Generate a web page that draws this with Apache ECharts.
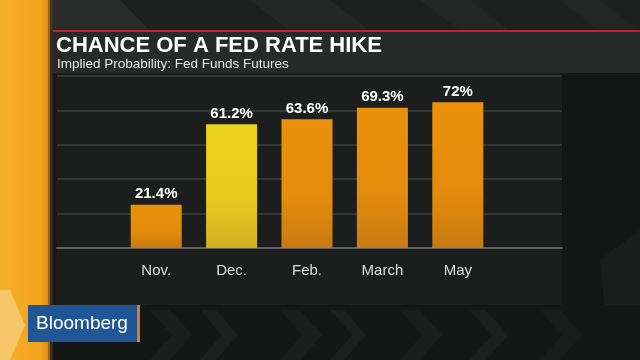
<!DOCTYPE html>
<html><head><meta charset="utf-8">
<style>html,body{margin:0;padding:0;background:#181a1a;}#c{width:640px;height:360px;}</style>
<script src="https://cdn.jsdelivr.net/npm/echarts@6/dist/echarts.min.js"></script>
</head><body><div id="c"></div>
<script>
const categories = ['Nov.', 'Dec.', 'Feb.', 'March', 'May'];
const values = [21.4, 61.2, 63.6, 69.3, 72];
const highlight = [false, true, false, false, false];
const titleText = 'CHANCE OF A FED RATE HIKE';
const subtitleText = 'Implied Probability: Fed Funds Futures';

const orangeGrad = new echarts.graphic.LinearGradient(0,0,0,1,[{offset:0,color:'#ea900a'},{offset:0.6,color:'#e48c0c'},{offset:1,color:'#c97a10'}]);
const yellowGrad = new echarts.graphic.LinearGradient(0,0,0,1,[{offset:0,color:'#ebd21c'},{offset:0.6,color:'#e6cb1e'},{offset:1,color:'#cfb022'}]);

const chart = echarts.init(document.getElementById('c'), null, {renderer:'canvas'});

function chev(x, y, w, h, d, fill) {
  return {type:'polygon', silent:true, shape:{points:[[x,y],[x+w,y],[x+w+d,y+h/2],[x+w,y+h],[x,y+h],[x+d,y+h/2]]}, style:{fill:fill}};
}
const gfx = [
  // top strip
  {type:'rect', shape:{x:0,y:0,width:640,height:31}, style:{fill:'#1f2121'}, z:-10},
  {type:'polygon', shape:{points:[[50,0],[120,0],[150,31],[50,31]]}, style:{fill:'#2a2c2c'}, z:-9},
  {type:'polygon', shape:{points:[[250,0],[330,0],[370,31],[290,31]]}, style:{fill:'#252727'}, z:-9},
  {type:'polygon', shape:{points:[[420,0],[470,0],[510,31],[460,31]]}, style:{fill:'#242626'}, z:-9},
  {type:'polygon', shape:{points:[[560,0],[600,0],[640,31],[600,31]]}, style:{fill:'#232525'}, z:-9},
  // right dark region
  {type:'rect', shape:{x:562,y:73,width:78,height:287}, style:{fill:'#141616'}, z:-10},
  {type:'polygon', shape:{points:[[600,260],[640,230],[640,360],[610,360]]}, style:{fill:'#1b1d1d'}, z:-9},
  // chart panel
  {type:'rect', shape:{x:57,y:75,width:505,height:230}, style:{fill:'#1c1e1e'}, z:-8},
  // bottom band chevrons
  {type:'rect', shape:{x:50,y:305,width:590,height:55}, style:{fill:'#151717'}, z:-8},
  Object.assign(chev(150,310,20,50,22,'#1c1e1e'),{z:-7}),
  Object.assign(chev(200,310,16,50,22,'#1e2020'),{z:-7}),
  Object.assign(chev(280,310,20,50,22,'#1c1e1e'),{z:-7}),
  Object.assign(chev(330,310,14,50,22,'#1e2020'),{z:-7}),
  Object.assign(chev(400,310,20,50,22,'#1b1d1d'),{z:-7}),
  Object.assign(chev(470,310,16,50,22,'#1d1f1f'),{z:-7}),
  Object.assign(chev(540,310,20,50,22,'#1a1c1c'),{z:-7}),
  // title box
  {type:'rect', shape:{x:53,y:31,width:587,height:42}, style:{fill:'#282a2a'}, z:-6},
  {type:'rect', shape:{x:53,y:30,width:587,height:2}, style:{fill:'#c4222b'}, z:-5},
  // left orange strip
  {type:'rect', shape:{x:0,y:0,width:50,height:360}, style:{fill:new echarts.graphic.LinearGradient(0,0,1,0,[{offset:0,color:'#f7b02a'},{offset:0.8,color:'#f3a31c'},{offset:1,color:'#d88a12'}])}, z:-4},
  {type:'polygon', shape:{points:[[0,290],[10,290],[25,325],[10,360],[0,360]]}, style:{fill:'#f6c768'}, z:-3},
  {type:'rect', shape:{x:48,y:0,width:5,height:360}, style:{fill:'#5a4010', opacity:0.5}, z:-3},
  // Bloomberg logo
  {type:'rect', shape:{x:28,y:305,width:109,height:37}, style:{fill:'#1f5796'}, z:20},
  {type:'rect', shape:{x:137,y:305,width:3,height:37}, style:{fill:'#e07a22'}, z:20},
  {type:'text', x:82, y:324, style:{text:'Bloomberg', fill:'#ffffff', font:'19px "Liberation Sans", Arial, sans-serif', align:'center', verticalAlign:'middle'}, z:21},
  // titles
  {type:'text', x:56, y:46, style:{text:titleText, fill:'#ffffff', font:'bold 22px "Liberation Sans", Arial, sans-serif', verticalAlign:'middle'}, z:21},
  {type:'text', x:57, y:64, style:{text:subtitleText, fill:'#e6e6e6', font:'13.5px "Liberation Sans", Arial, sans-serif', verticalAlign:'middle'}, z:21}
];

chart.setOption({
  backgroundColor:'#181a1a',
  animation:false,
  graphic: gfx,
  grid:[
    {left:118.5, right:144.5, top:76, bottom:112},
    {left:57, right:78, top:76, bottom:112}
  ],
  xAxis:[
    {type:'category', gridIndex:0, data:categories, axisLine:{show:false}, axisTick:{show:false},
     axisLabel:{color:'#dcdcdc', fontSize:15, margin:15, fontFamily:'"Liberation Sans", Arial, sans-serif'}},
    {type:'value', gridIndex:1, min:0, max:1, axisLabel:{show:false}, axisTick:{show:false}, splitLine:{show:false},
     axisLine:{show:true, onZero:true, lineStyle:{color:'#5e6060', width:2}}}
  ],
  yAxis:[
    {type:'value', gridIndex:0, min:0, max:85, interval:17, show:false, splitLine:{show:false}},
    {type:'value', gridIndex:1, min:0, max:85, interval:17, axisLabel:{show:false}, axisLine:{show:false}, axisTick:{show:false},
     splitLine:{show:true, lineStyle:{color:'#333636', width:2}}}
  ],
  series:[{
    type:'bar', xAxisIndex:0, yAxisIndex:0, barWidth:51, z:5,
    data: values.map((v,i)=>({value:v, itemStyle:{color: highlight[i] ? yellowGrad : orangeGrad}})),
    label:{show:true, position:'top', distance:3, color:'#ffffff', fontSize:15, fontWeight:'bold',
      fontFamily:'"Liberation Sans", Arial, sans-serif', formatter: p => p.value + '%'}
  }]
});
</script></body></html>
